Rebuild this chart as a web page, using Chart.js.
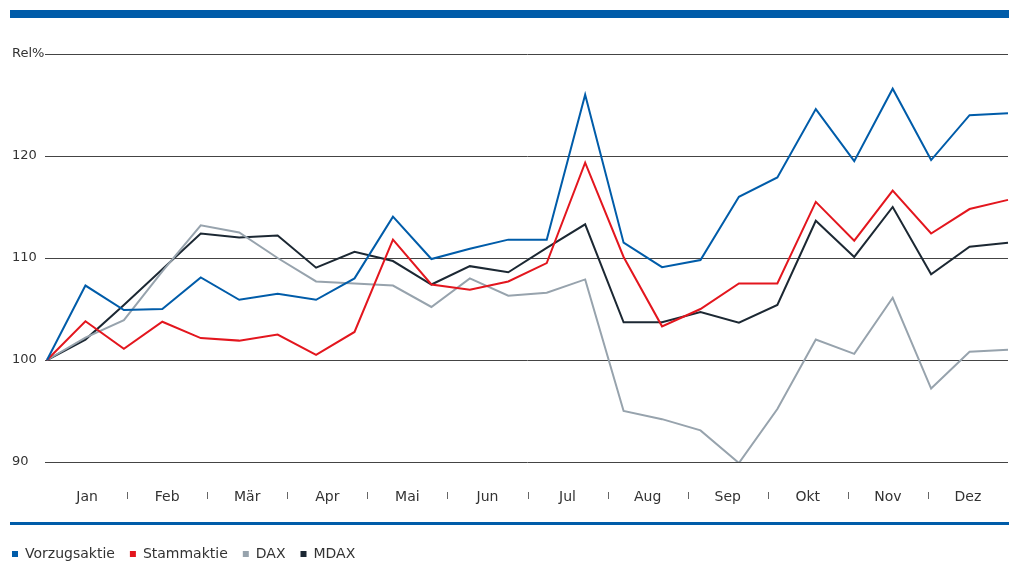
<!DOCTYPE html>
<html lang="de">
<head>
<meta charset="utf-8">
<script src="https://cdn.jsdelivr.net/npm/chart.js@4.4.1/dist/chart.umd.min.js"></script>
<style>
  html, body { margin: 0; padding: 0; background: #fff; }
  #wrap { position: relative; width: 1009px; height: 562px; }
  .rule { position: absolute; left: 10px; right: 0; background: #005ca9; }
  #topRule { top: 10px; height: 8px; }
  #bottomRule { top: 522px; height: 3px; }
</style>
</head>
<body>
<div id="wrap">
  <canvas id="chart" width="1009" height="562"></canvas>
  <div class="rule" id="topRule"></div>
  <div class="rule" id="bottomRule"></div>
</div>
<script>
const months = ["Jan", "Feb", "Mär", "Apr", "Mai", "Jun", "Jul", "Aug", "Sep", "Okt", "Nov", "Dez"];

// 26 Messpunkte (etwa alle zwei Wochen)
const points = Array.from({ length: 26 }, (_, i) => String(i));

const vorzugsaktie = [100, 107.3, 104.9, 105.0, 108.1, 105.9, 106.5, 105.9, 108.0, 114.05, 109.9, 110.9, 111.8,
  111.8, 126.0, 111.5, 109.1, 109.8, 116.0, 117.9, 124.6, 119.5, 126.6, 119.6, 124.0, 124.2];
const stammaktie = [100, 103.8, 101.1, 103.75, 102.15, 101.9, 102.5, 100.5, 102.75, 111.8, 107.4, 106.9, 107.7,
  109.5, 119.35, 110.1, 103.3, 105.0, 107.5, 107.5, 115.5, 111.7, 116.6, 112.4, 114.8, 115.7];
const dax = [100, 102.2, 103.9, 108.7, 113.2, 112.5, 110.0, 107.7, 107.5, 107.3, 105.2, 108.0, 106.3,
  106.6, 107.9, 95.0, 94.2, 93.1, 89.9, 95.2, 102.0, 100.6, 106.1, 97.2, 100.8, 101.0];
const mdax = [100, 102.0, 105.4, 108.9, 112.4, 112.0, 112.2, 109.05, 110.6, 109.7, 107.4, 109.2, 108.6,
  111.0, 113.3, 103.7, 103.7, 104.7, 103.65, 105.4, 113.65, 110.1, 115.0, 108.4, 111.1, 111.5];

const yTicks = [90, 100, 110, 120, 130];

const textColor = "#333";
const font = { family: "'DejaVu Sans', sans-serif", size: 14 };
const yFont = { family: "'DejaVu Sans', sans-serif", size: 13 };

// kleine Trennstriche zwischen den Monatsnamen
const monthMarks = {
  id: "monthMarks",
  afterDraw(chart) {
    const s = chart.scales.months;
    const c = chart.ctx;
    c.save();
    c.strokeStyle = "#666";
    c.lineWidth = 1;
    for (let i = 1; i < months.length; i++) {
      const x = Math.round(s.getPixelForValue(i)) + 0.5;
      c.beginPath();
      c.moveTo(x, s.top + 30);
      c.lineTo(x, s.top + 37);
      c.stroke();
    }
    c.restore();
  }
};

// Legende an den linken Rand und unter die blaue Linie schieben
const legendShift = {
  id: "legendShift",
  afterLayout(chart) {
    chart.legend.left -= 15;
    chart.legend.top += 9;
  }
};

function line(label, data, color) {
  return {
    label,
    data,
    borderColor: color,
    backgroundColor: color,
    borderWidth: 2,
    pointRadius: 0,
    tension: 0,
    fill: false,
  };
}

const ctx = document.getElementById("chart").getContext("2d");

new Chart(ctx, {
  type: "line",
  data: {
    labels: points,
    datasets: [
      line("Vorzugsaktie", vorzugsaktie, "#005ca9"),
      line("Stammaktie", stammaktie, "#e3161e"),
      line("DAX", dax, "#97a3ad"),
      line("MDAX", mdax, "#1c2833"),
    ],
  },
  options: {
    responsive: false,
    animation: false,
    layout: { padding: { left: 12, top: 54, right: 1, bottom: 0 } },
    plugins: {
      tooltip: { enabled: false },
      legend: {
        position: "bottom",
        align: "start",
        labels: {
          usePointStyle: true,
          pointStyle: "rect",
          boxWidth: 6,
          boxHeight: 6,
          padding: 15,
          color: textColor,
          font,
          generateLabels: (chart) =>
            Chart.defaults.plugins.legend.labels.generateLabels(chart).map((l) => ({ ...l, lineWidth: 0 })),
        },
      },
    },
    scales: {
      x: { type: "category", display: false },
      months: {
        type: "linear",
        position: "bottom",
        min: 0,
        max: 12,
        afterBuildTicks: (s) => { s.ticks = months.map((m, i) => ({ value: i + 0.5 })); },
        ticks: {
          autoSkip: false,
          maxRotation: 0,
          padding: 19,
          color: textColor,
          font,
          callback: (v, i) => months[i],
        },
        grid: { display: false },
        border: { display: false },
        afterFit: (s) => { s.height = 61; },
      },
      y: {
        min: 90,
        max: 130,
        afterBuildTicks: (s) => { s.ticks = yTicks.map((v) => ({ value: v })); },
        ticks: {
          crossAlign: "far",
          color: textColor,
          font: yFont,
          callback: (v) => (v === 130 ? "Rel%" : v),
        },
        grid: { color: "#444", lineWidth: 1, drawTicks: true, tickLength: 2 },
        border: { display: false },
        afterFit: (s) => { s.width = 35; },
      },
    },
  },
  plugins: [monthMarks, legendShift],
});
</script>
</body>
</html>
